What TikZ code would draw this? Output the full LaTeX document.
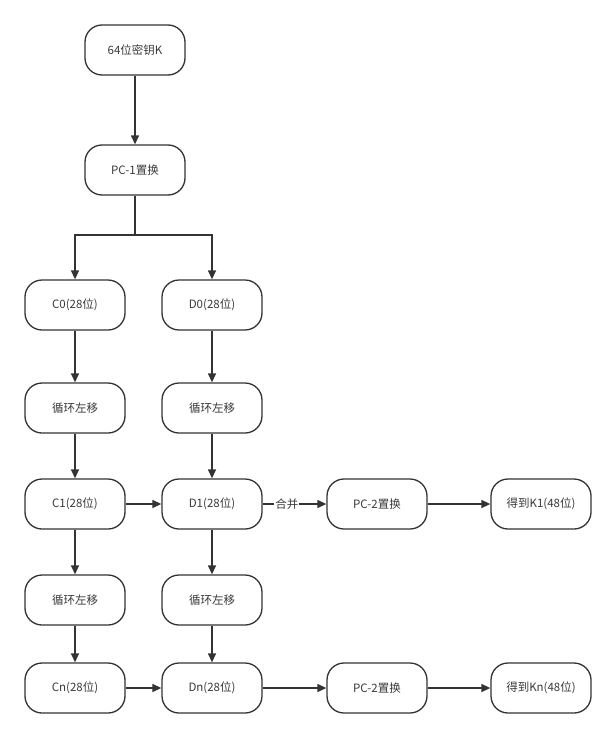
\documentclass[tikz,border=0pt]{standalone}
\usepackage{fontspec}
\setmainfont{Noto Sans CJK SC}
\usetikzlibrary{arrows.meta}
\definecolor{ln}{HTML}{333333}
\definecolor{tx}{HTML}{3a3a3a}
\begin{document}
\begin{tikzpicture}[x=1pt,y=-1pt,
  box/.style={draw=ln,line width=1.3pt,rounded corners=17pt,minimum width=100pt,minimum height=50pt,
    inner sep=0pt,text=tx,font=\fontsize{11.5}{13}\selectfont,fill=white},
  conn/.style={draw=ln,line width=1.3pt,-{Triangle[length=9pt,width=8pt]}},
  lbl/.style={fill=white,text=tx,font=\fontsize{11.5}{13}\selectfont,inner sep=1pt}]
\useasboundingbox (0,0) rectangle (615,736);
\node[box] (key) at (135,50) {64位密钥K};
\node[box] (pc1) at (135,170) {PC-1置换};
\node[box] (c0) at (75,305) {C0(28位)};
\node[box] (d0) at (212,305) {D0(28位)};
\node[box] (lc1) at (75,408) {循环左移};
\node[box] (ld1) at (212,408) {循环左移};
\node[box] (c1) at (75,504) {C1(28位)};
\node[box] (d1) at (212,504) {D1(28位)};
\node[box] (p21) at (377,504) {PC-2置换};
\node[box] (k1) at (541,504) {得到K1(48位)};
\node[box] (lc2) at (75,600) {循环左移};
\node[box] (ld2) at (212,600) {循环左移};
\node[box] (cn) at (75,688) {Cn(28位)};
\node[box] (dn) at (212,688) {Dn(28位)};
\node[box] (p2n) at (377,688) {PC-2置换};
\node[box] (kn) at (541,688) {得到Kn(48位)};
\coordinate (j) at (135,235);
\draw[conn] (key) -- (pc1);
\draw[draw=ln,line width=1.3pt] (pc1.south) -- (j);
\draw[conn] (j) -| (c0.north);
\draw[conn] (j) -| (d0.north);
\draw[conn] (c0) -- (lc1);
\draw[conn] (d0) -- (ld1);
\draw[conn] (lc1) -- (c1);
\draw[conn] (ld1) -- (d1);
\draw[conn] (c1) -- (d1);
\draw[conn] (d1) -- node[lbl,pos=0.38] {合并} (p21);
\draw[conn] (p21) -- (k1);
\draw[conn] (c1) -- (lc2);
\draw[conn] (d1) -- (ld2);
\draw[conn] (lc2) -- (cn);
\draw[conn] (ld2) -- (dn);
\draw[conn] (cn) -- (dn);
\draw[conn] (dn) -- (p2n);
\draw[conn] (p2n) -- (kn);
\end{tikzpicture}
\end{document}
